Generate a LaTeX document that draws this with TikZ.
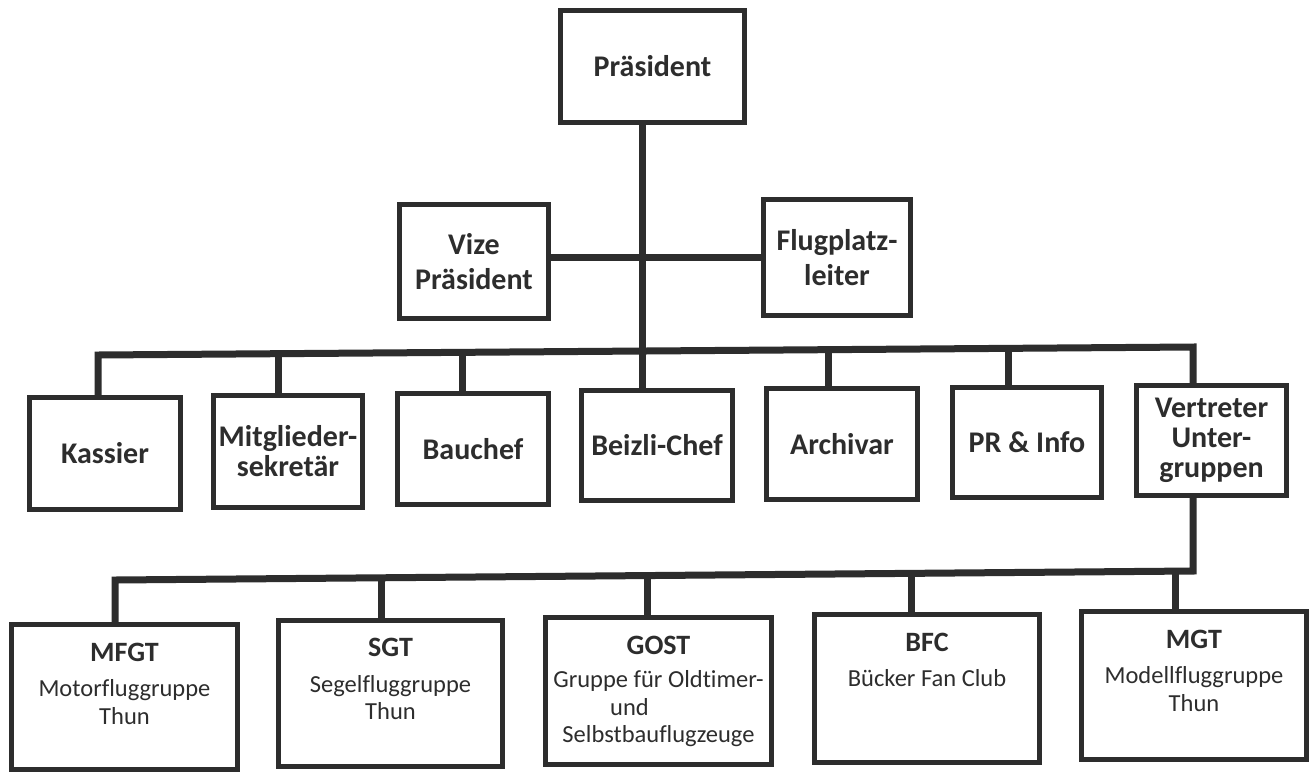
\documentclass[tikz,border=0pt]{standalone}
\usepackage{fontspec}
\setmainfont{Carlito}[Ligatures=NoCommon]
\definecolor{ink}{RGB}{45,45,45}
\newcommand\grphead[1]{{\bfseries\fontsize{28}{30}\selectfont #1}}
\begin{document}
\begin{tikzpicture}[x=1pt,y=-1pt,
  box/.style={draw=ink, line width=5pt, fill=white, inner sep=0pt, text=ink,
              align=center, font=\bfseries\fontsize{30}{30}\selectfont},
  topbox/.style={box, font=\bfseries\fontsize{30}{35}\selectfont},
  conn/.style={draw=ink, line width=7pt, line join=miter},
  grp/.style={anchor=north, inner sep=0pt, text=ink, align=center,
              font=\fontsize{24.5}{27.5}\selectfont}]
\fill[white] (0,0) rectangle (1316,774);
\useasboundingbox (0,0) rectangle (1316,774);

% top level
\node[topbox, minimum width=184pt, minimum height=112pt] (pres) at (652.5,66.5) {Präsident};
\node[topbox, minimum width=149pt, minimum height=114pt] (vize) at (474,261.5) {Vize\\Präsident};
\node[topbox, minimum width=147pt, minimum height=116pt] (flug) at (837,257.5) {Flugplatz-\\leiter};

% second row
\node[box, minimum width=151pt, minimum height=112pt] (kassier) at (105,453.5) {Kassier};
\node[box, minimum width=149pt, minimum height=112pt] (mitg) at (288,451.5) {Mitglieder-\\sekretär};
\node[box, minimum width=151pt, minimum height=111pt] (bau) at (473,449) {Bauchef};
\node[box, minimum width=151pt, minimum height=110pt] (beizli) at (657,445.5) {Beizli-Chef};
\node[box, minimum width=151pt, minimum height=111pt] (arch) at (842,444) {Archivar};
\node[box, minimum width=149pt, minimum height=110pt] (pr) at (1027,442.5) {PR \& Info};
\node[box, minimum width=150pt, minimum height=110pt] (vert) at (1211.5,440.5) {Vertreter\\Unter-\\gruppen};

% third row
\node[box, minimum width=226pt, minimum height=145pt] (mfgt) at (124.5,697) {};
\node[box, minimum width=224pt, minimum height=146pt] (sgt) at (390.5,693) {};
\node[box, minimum width=226pt, minimum height=147pt] (gost) at (658.5,691) {};
\node[box, minimum width=225pt, minimum height=148pt] (bfc) at (927,688.5) {};
\node[box, minimum width=225pt, minimum height=148pt] (mgt) at (1194,685.5) {};

\node[grp] (mfgt-t) at ([yshift=-20.5pt]mfgt.north) {\grphead{MFGT}\\[8pt]Motorfluggruppe\\Thun};
\node[grp] (sgt-t) at ([yshift=-20.5pt]sgt.north) {\grphead{SGT}\\[8pt]Segelfluggruppe\\Thun};
\node[grp] (gost-t) at ([yshift=-20.5pt]gost.north) {\grphead{GOST}\\[6pt]Gruppe für Oldtimer-\\und\hspace{58pt}\mbox{}\\Selbstbauflugzeuge};
\node[grp] (bfc-t) at ([yshift=-20.5pt]bfc.north) {\grphead{BFC}\\[8pt]Bücker Fan Club};
\node[grp] (mgt-t) at ([yshift=-20.5pt]mgt.north) {\grphead{MGT}\\[8pt]Modellfluggruppe\\Thun};

% junctions
\coordinate (vf) at (642,257);
\coordinate (j1) at (98,355);
\coordinate (j2) at (278,353.7);
\coordinate (j3) at (462,352.3);
\coordinate (j4) at (642,351);
\coordinate (j5) at (828,349.7);
\coordinate (j6) at (1008,348.4);
\coordinate (j7) at (1193,347);
\coordinate (k1) at (115,580);
\coordinate (k2) at (381,577.8);
\coordinate (k3) at (647,575.6);
\coordinate (k4) at (911,573.4);
\coordinate (k5) at (1175,571.2);
\coordinate (k6) at (1193,571);

% connectors
\draw[conn] (pres.south -| j4) -- (j4);
\draw[conn] (vize.east |- vf) -- (flug.west |- vf);
\draw[conn] (kassier.north -| j1) -- (j1) -- (j7) -- (vert.north -| j7);
\draw[conn] (j2) -- (j2 |- mitg.north);
\draw[conn] (j3) -- (j3 |- bau.north);
\draw[conn] (j4) -- (j4 |- beizli.north);
\draw[conn] (j5) -- (j5 |- arch.north);
\draw[conn] (j6) -- (j6 |- pr.north);
\draw[conn] (vert.south -| k6) -- (k6) -- (k1) -- (mfgt.north -| k1);
\draw[conn] (k2) -- (k2 |- sgt.north);
\draw[conn] (k3) -- (k3 |- gost.north);
\draw[conn] (k4) -- (k4 |- bfc.north);
\draw[conn] (k5) -- (k5 |- mgt.north);
\end{tikzpicture}
\end{document}
